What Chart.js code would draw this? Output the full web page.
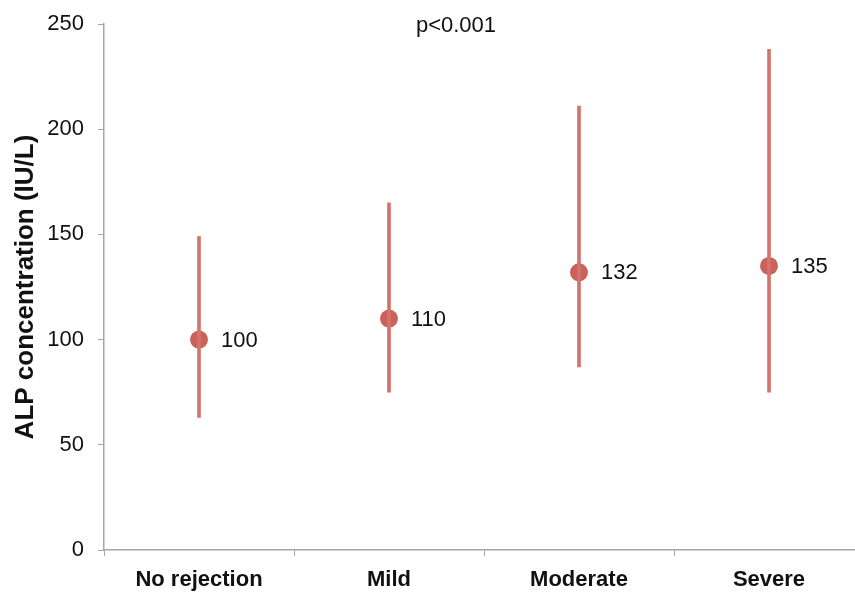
<!DOCTYPE html>
<html>
<head>
<meta charset="utf-8">
<script src="https://cdn.jsdelivr.net/npm/chart.js@4"></script>
<style>
  html, body { margin: 0; padding: 0; background: #fff; overflow: hidden; }
  #clip { width: 855px; height: 596px; overflow: hidden; }
  #wrap { width: 864px; height: 596px; }
</style>
</head>
<body>
<div id="clip"><div id="wrap"><canvas id="chart" width="864" height="596"></canvas></div></div>
<script>
const groups = ['No rejection', 'Mild', 'Moderate', 'Severe'];
const medians = [100, 110, 132, 135];
const lows = [63, 75, 87, 75];
const highs = [149, 165, 211, 238];
const pText = 'p<0.001';

const dotColor = '#c8625a';
const barColor = '#d4736b';
const axisColor = '#a6a6a6';
const fontFamily = '"Liberation Sans", Arial, sans-serif';

// value labels to the right of each point + p-value text
const labelPlugin = {
    id: 'labels',
    afterDatasetsDraw(chart) {
        const ctx = chart.ctx;
        const meta = chart.getDatasetMeta(1);
        ctx.save();
        ctx.fillStyle = '#111';
        ctx.font = '22px ' + fontFamily;
        ctx.textBaseline = 'middle';
        ctx.textAlign = 'left';
        meta.data.forEach((pt, i) => {
            ctx.fillText(String(medians[i]), pt.x + 22, pt.y + 1);
        });
        ctx.textAlign = 'center';
        ctx.fillText(pText, 456, 26);
        ctx.restore();
    }
};

new Chart(document.getElementById('chart'), {
    type: 'bar',
    data: {
        labels: groups,
        datasets: [
            {
                type: 'bar',
                data: groups.map((g, i) => [lows[i], highs[i]]),
                backgroundColor: barColor,
                barThickness: 3,
                borderWidth: 0
            },
            {
                type: 'line',
                data: medians,
                showLine: false,
                pointRadius: 9,
                pointBackgroundColor: dotColor,
                pointBorderWidth: 0
            }
        ]
    },
    options: {
        responsive: false,
        animation: false,
        layout: { autoPadding: false, padding: { top: 24, right: 0, bottom: 0, left: 0 } },
        plugins: {
            legend: { display: false },
            tooltip: { enabled: false }
        },
        scales: {
            x: {
                offset: true,
                grid: {
                    offset: true,
                    drawOnChartArea: false,
                    tickLength: 6,
                    color: axisColor
                },
                border: { color: axisColor, width: 1.5 },
                ticks: {
                    color: '#111',
                    padding: 11,
                    font: { family: fontFamily, size: 22, weight: 'bold' }
                },
                afterFit(scale) {
                    scale.height = 46;
                    scale.paddingLeft = 0;
                    scale.paddingRight = 0;
                }
            },
            y: {
                min: 0,
                max: 250,
                ticks: {
                    stepSize: 50,
                    color: '#111',
                    padding: 14,
                    font: { family: fontFamily, size: 22 }
                },
                grid: {
                    drawOnChartArea: false,
                    tickLength: 6,
                    color: axisColor
                },
                border: { color: axisColor, width: 1.5 },
                title: {
                    display: true,
                    text: 'ALP concentration (IU/L)',
                    color: '#111',
                    padding: { top: 10, bottom: 0 },
                    font: { family: fontFamily, size: 26, weight: 'bold' }
                },
                afterFit(scale) {
                    scale.width = 104;
                    scale.paddingTop = 0;
                    scale.paddingBottom = 0;
                }
            }
        }
    },
    plugins: [labelPlugin]
});
</script>
</body>
</html>
